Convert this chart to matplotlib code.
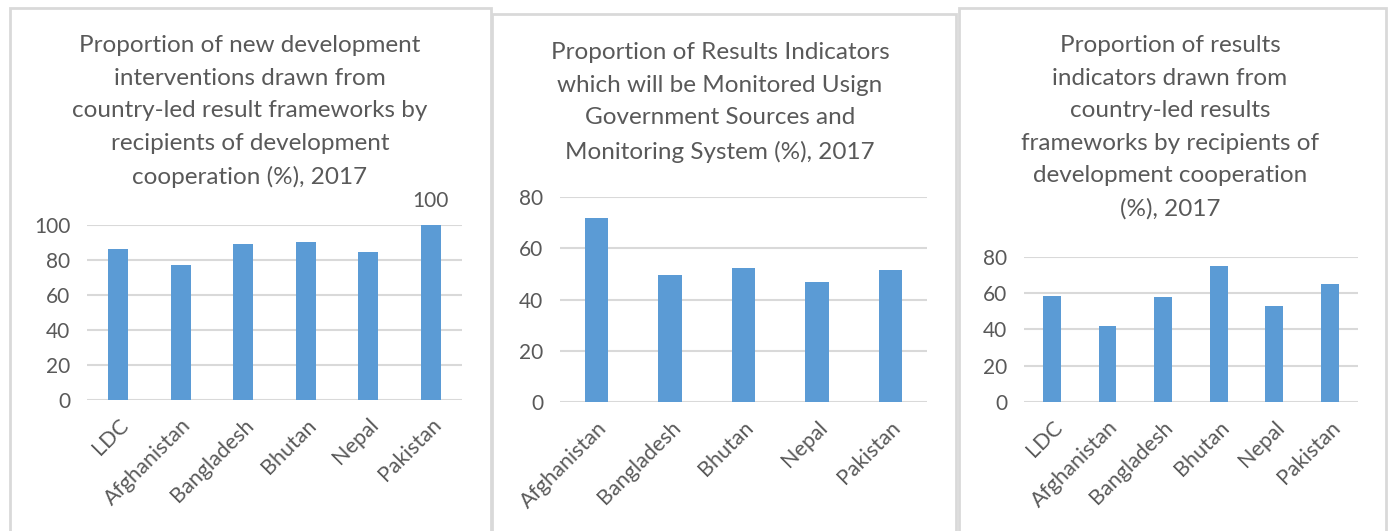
import matplotlib
matplotlib.use("Agg")
import matplotlib.pyplot as plt
from matplotlib.patches import Rectangle

plt.rcParams["font.family"] = ["Lato", "DejaVu Sans"]

# data
dev_countries = ["LDC", "Afghanistan", "Bangladesh", "Bhutan", "Nepal", "Pakistan"]
dev_values = [86, 77, 89, 90, 84.3, 100]

mon_countries = ["Afghanistan", "Bangladesh", "Bhutan", "Nepal", "Pakistan"]
mon_values = [72, 49.8, 52.3, 46.7, 51.5]

res_countries = ["LDC", "Afghanistan", "Bangladesh", "Bhutan", "Nepal", "Pakistan"]
res_values = [58.7, 42, 57.8, 75.2, 52.9, 64.9]

titles = [
    "Proportion of new development\ninterventions drawn from\ncountry-led result frameworks by\nrecipients of development\ncooperation (%), 2017",
    "Proportion of Results Indicators\nwhich will be Monitored Usign\nGovernment Sources and\nMonitoring System (%), 2017",
    "Proportion of results\nindicators drawn from\ncountry-led results\nframeworks by recipients of\ndevelopment cooperation\n(%), 2017",
]

W, H = 1390, 531
BAR = "#5B9BD5"
TXT = "#595959"
GRID = "#D9D9D9"

fig = plt.figure(figsize=(W / 100, H / 100), dpi=100)


def box(x0, y0, x1, y1):
    # pixel box (top-left origin) -> figure fraction rect
    return [x0 / W, 1 - y1 / H, (x1 - x0) / W, (y1 - y0) / H]


# panel frames
for x0, y0, x1 in [(10, 8, 491), (492, 14, 956), (959, 8, 1386)]:
    fig.patches.append(Rectangle((x0 / W, -0.05), (x1 - x0) / W, 1.05 - y0 / H,
                                 transform=fig.transFigure, fill=False,
                                 edgecolor=GRID, linewidth=2))


def panel(rect, cats, vals, ymax, step, title, tx, ty, label_top=False):
    ax = fig.add_axes(box(*rect))
    x = range(len(cats))
    bars = ax.bar(x, vals, width=0.32, color=BAR, zorder=3)
    ax.set_xlim(-0.5, len(cats) - 0.5)
    ax.set_ylim(0, ymax)
    ax.set_yticks(range(0, ymax + 1, step))
    ax.yaxis.grid(True, color=GRID, linewidth=1.5, zorder=0)
    for s in ax.spines.values():
        s.set_visible(False)
    ax.tick_params(length=0, colors=TXT)
    ax.tick_params(axis="y", pad=12, labelsize=15)
    ax.set_xticks(list(x))
    ax.set_xticklabels(cats, rotation=45, ha="right", rotation_mode="anchor")
    ax.tick_params(axis="x", pad=11, labelsize=15.5)
    if label_top:
        b = bars[-1]
        ax.text(b.get_x() + b.get_width() / 2, vals[-1] + 8, f"{vals[-1]:.0f}",
                ha="center", va="bottom", color=TXT, fontsize=15)
    fig.text(tx / W, 1 - ty / H, title, ha="center", va="top", color=TXT,
             fontsize=17.5, linespacing=1.68)
    return ax


panel((87, 224.7, 462, 399.5), dev_countries, dev_values, 100, 20, titles[0], 250, 35, label_top=True)
panel((560, 197, 927, 402.3), mon_countries, mon_values, 80, 20, titles[1], 720, 42)
panel((1024, 257, 1357.7, 401.7), res_countries, res_values, 80, 20, titles[2], 1170, 35)

fig.savefig("out.png", dpi=100)
